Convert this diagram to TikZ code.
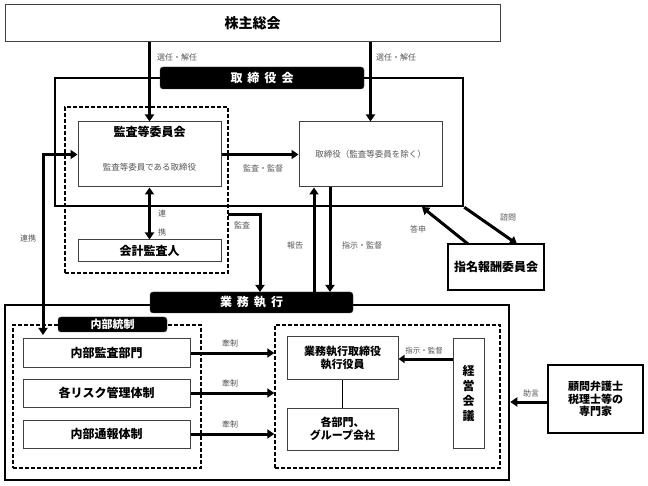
\documentclass[tikz,border=0pt]{standalone}
\usepackage{fontspec}
\setmainfont{Noto Sans CJK JP}
\usetikzlibrary{arrows.meta}
\definecolor{lbl}{HTML}{555555}
\definecolor{bd}{HTML}{404040}
\tikzset{
  box/.style={draw=bd, line width=1pt, fill=white, inner sep=0pt, align=center, font=\bfseries\fontsize{12}{14}\selectfont},
  tbox/.style={draw=black, line width=1.6pt, fill=white, inner sep=0pt, align=center, font=\bfseries\fontsize{12}{14}\selectfont},
  frame/.style={draw=black, line width=2.5pt, inner sep=0pt},
  dbox/.style={draw=black, line width=1.4pt, dash pattern=on 4pt off 2pt, inner sep=0pt},
  head/.style={fill=black, draw=bd, rounded corners=3pt, text=white, inner sep=0pt, font=\bfseries\fontsize{12}{14}\selectfont},
  arr/.style={line width=3pt, -{Triangle[length=7pt,width=9pt]}},
  darr/.style={line width=3pt, {Triangle[length=7pt,width=9pt]}-{Triangle[length=7pt,width=9pt]}},
  lab/.style={text=lbl, inner sep=0pt, font=\fontsize{8}{9}\selectfont},
  sub/.style={text=lbl, inner sep=0pt, font=\fontsize{8.5}{10}\selectfont},
}
\begin{document}
\begin{tikzpicture}[x=1pt,y=-1pt]
\useasboundingbox (0,0) rectangle (648,486);
% shareholders
\node[box, font=\bfseries\fontsize{14}{16}\selectfont, minimum width=495pt, minimum height=37pt] (kabu) at (252.5,23.5) {株主総会};
% board frame
\node[frame, minimum width=408pt, minimum height=128pt] (board) at (259,142) {};
\node[head, minimum width=204pt, minimum height=22pt] (bhead) at (262,78) {取\hspace{5pt}締\hspace{5pt}役\hspace{5pt}会};
% audit committee dashed group
\node[dbox, minimum width=163pt, minimum height=166pt] (kdash) at (146.5,190) {};
\node[box, minimum width=143pt, minimum height=65pt] (kiin) at (149.5,154.5) {};
\node[inner sep=0pt, font=\bfseries\fontsize{12}{14}\selectfont] (kiinT) at (149.5,132) {監査等委員会};
\node[sub] (kiinS) at (149.5,167) {監査等委員である取締役};
\node[box, minimum width=143pt, minimum height=22pt] (kaikei) at (149.5,251) {会計監査人};
% directors
\node[box, draw=bd, minimum width=143pt, minimum height=65pt, font=\fontsize{8.5}{10}\selectfont, text=lbl] (tori) at (370.5,154.5) {取締役（監査等委員を除く）};
% nomination committee
\node[tbox, minimum width=96pt, minimum height=46pt] (shimei) at (496,267) {指名報酬委員会};
% business execution frame
\node[frame, minimum width=504pt, minimum height=175pt] (outer) at (257,392.5) {};
\node[head, minimum width=203pt, minimum height=21pt] (ghead) at (251.5,302.5) {業\hspace{5pt}務\hspace{5pt}執\hspace{5pt}行};
% internal control
\node[dbox, minimum width=188pt, minimum height=143pt] (ldash) at (107,396.5) {};
\node[head, minimum width=109pt, minimum height=15pt, font=\bfseries\fontsize{11}{12}\selectfont] (nhead) at (112.5,324.5) {内部統制};
\node[box, minimum width=167pt, minimum height=28pt] (b1) at (106.5,353) {内部監査部門};
\node[box, minimum width=167pt, minimum height=28pt] (b2) at (106.5,393) {各リスク管理体制};
\node[box, minimum width=167pt, minimum height=28pt] (b3) at (106.5,434) {内部通報体制};
% execution side
\node[dbox, minimum width=225pt, minimum height=143pt] (rdash) at (387.5,396.5) {};
\node[box, minimum width=111pt, minimum height=42pt, font=\bfseries\fontsize{11}{13}\selectfont] (gt) at (342.5,358) {業務執行取締役\\執行役員};
\node[box, minimum width=111pt, minimum height=42pt, font=\bfseries\fontsize{11}{13}\selectfont] (kb) at (342.5,429) {各部門、\\グループ会社};
\node[box, minimum width=31pt, minimum height=109pt, font=\bfseries\fontsize{12}{15}\selectfont] (keiei) at (468.5,393.5) {経\\営\\会\\議};
\node[tbox, minimum width=95pt, minimum height=68pt, font=\bfseries\fontsize{11}{12.5}\selectfont] (komon) at (595.5,399) {顧問弁護士\\税理士等の\\専門家};
% coordinates
\coordinate (rk) at (43,335);
\coordinate (ks) at (228,215);
\coordinate (ke) at (260,292);
\coordinate (hoA) at (314,292);
\coordinate (shA) at (330,292);
\coordinate (toS) at (468,244);
\coordinate (toE) at (422,207);
\coordinate (shE) at (517,244);
% connectors
\draw[arr] (kabu.south -| kiin.north) -- (kiin.north);
\draw[arr] (kabu.south -| tori.north) -- (tori.north);
\draw[arr] (kiin.east) -- (tori.west);
\draw[darr] (kiin.south) -- (kaikei.north);
\draw[darr] (kiin.west) -| (rk);
\draw[arr] (ks) -| (ke);
\draw[arr] (hoA) -- (hoA |- tori.south);
\draw[arr] (shA |- tori.south) -- (shA);
\draw[arr] (toS) -- (toE);
\draw[arr] (board.south east) -- (shE);
\draw[arr] (b1.east) -- (b1.east -| rdash.west);
\draw[arr] (b2.east) -- (b2.east -| rdash.west);
\draw[arr] (b3.east) -- (b3.east -| rdash.west);
\draw[line width=3pt, -{Triangle[length=6pt,width=8pt]}] (keiei.west |- 0,359) -- (gt.east |- 0,359);
\draw[line width=1.5pt] (gt.south) -- (kb.north);
\draw[arr] (komon.west |- 0,402) -- (outer.east |- 0,402);
% labels
\node[lab, anchor=west] (l1) at (157,57) {選任・解任};
\node[lab, anchor=west] (l2) at (376,57) {選任・解任};
\node[lab] (l3) at (263,168) {監査・監督};
\node[lab] (l4) at (162,213) {連};
\node[lab] (l5) at (162,232) {携};
\node[lab] (l6) at (28,238) {連携};
\node[lab] (l7) at (242,225) {監査};
\node[lab] (l8) at (295,245) {報告};
\node[lab] (l9) at (362,245) {指示・監督};
\node[lab] (l10) at (418,229) {答申};
\node[lab] (l11) at (508,217) {諮問};
\node[lab] (l12) at (230,343) {牽制};
\node[lab] (l13) at (230,383) {牽制};
\node[lab] (l14) at (230,424) {牽制};
\node[lab, font=\fontsize{7.5}{9}\selectfont] (l15) at (424,351) {指示・監督};
\node[lab] (l16) at (531,393) {助言};
\end{tikzpicture}
\end{document}
